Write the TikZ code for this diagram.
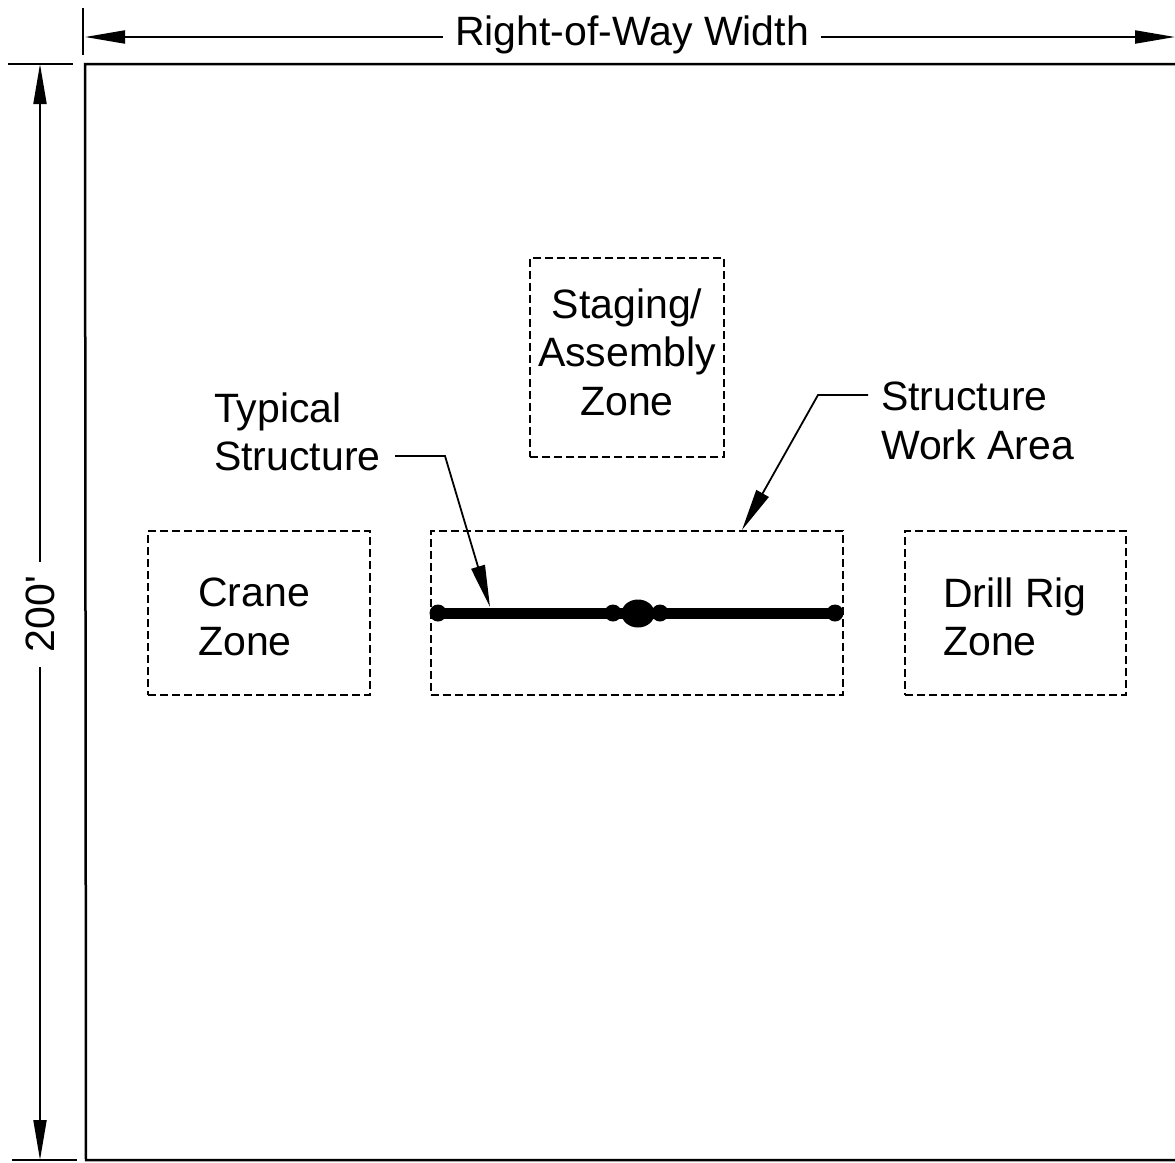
\documentclass[tikz,border=0pt]{standalone}
\usepackage{fontspec}
\setmainfont{Liberation Sans}
\usetikzlibrary{arrows.meta}
\begin{document}
\begin{tikzpicture}[x=1pt,y=-1pt,
  lbl/.style={font=\fontsize{41}{48.5}\selectfont, inner sep=0pt},
  zonebox/.style={draw, line width=1.5pt, dash pattern=on 8pt off 4pt},
  dimline/.style={line width=2pt},
  dimtip/.style={-{Triangle[length=40pt,width=13pt]}},
  leadtip/.style={-{Triangle[length=42pt,width=14pt]}},
  frameline/.style={line width=2.5pt},
  bar/.style={line width=11pt}]
\useasboundingbox (0,0) rectangle (1175,1162);
% frame
\coordinate (ftl) at (85,64);
\coordinate (ftr) at (1175,64);
\coordinate (fbl) at (86,1160);
\coordinate (fbr) at (1175,1160);
\draw[frameline] (ftr) -- (ftl) -- (fbl) -- (fbr);
% extension lines
\coordinate (ext1a) at (83,8);
\coordinate (ext1b) at (83,55);
\draw[dimline] (ext1a) -- (ext1b);
\coordinate (ext2a) at (8,64);
\coordinate (ext2b) at (73,64);
\draw[dimline] (ext2a) -- (ext2b);
\coordinate (ext3a) at (12,1160);
\coordinate (ext3b) at (77,1160);
\draw[dimline] (ext3a) -- (ext3b);
% top dimension
\node[lbl, inner xsep=12pt] (row) at (632,35) {Right-of-Way Width};
\coordinate (rowl) at (85,37);
\coordinate (rowr) at (1175,37);
\draw[dimline,dimtip] (row.west |- rowl) -- (rowl);
\draw[dimline,dimtip] (row.east |- rowr) -- (rowr);
% left dimension
\node[lbl, rotate=90] (dim) at (40,614) {200\textquotesingle};
\coordinate (dimgt) at (40,562);
\coordinate (dimgb) at (40,667);
\coordinate (dimt) at (40,64);
\coordinate (dimb) at (40,1160);
\draw[dimline,dimtip] (dimgt) -- (dimt);
\draw[dimline,dimtip] (dimgb) -- (dimb);
% zones
\node[zonebox, minimum width=194pt, minimum height=199pt] (stage) at (627,357.5) {};
\node[lbl, align=center] (stagetxt) at (627,352) {Staging/\\Assembly\\Zone};
\node[zonebox, minimum width=412pt, minimum height=164pt] (swa) at (637,613) {};
\node[zonebox, minimum width=222pt, minimum height=164pt] (crane) at (259,613) {};
\node[lbl, align=left, anchor=west] (cranetxt) at (198,617) {Crane\\Zone};
\node[zonebox, minimum width=221pt, minimum height=164pt] (drill) at (1015.5,613) {};
\node[lbl, align=left, anchor=west] (drilltxt) at (943,617) {Drill Rig\\Zone};
% structure
\coordinate (sl) at (438,613);
\coordinate (sr) at (835,613);
\draw[bar] (sl) -- (sr);
\fill (sl) circle (8.5pt);
\fill (sr) circle (8.5pt);
\fill (613,613) circle (8.5pt);
\fill (660,613) circle (8.5pt);
\fill (638,613.5) ellipse (16.5pt and 14pt);
% labels with leaders
\node[lbl, align=left, anchor=west] (tstxt) at (214,432) {Typical\\Structure};
\coordinate (ts1) at (395,456);
\coordinate (ts2) at (445,456);
\coordinate (tstip) at (490,607);
\draw[line width=1.8pt, leadtip] (ts1) -- (ts2) -- (tstip);
\node[lbl, align=left, anchor=west] (swatxt) at (881,421) {Structure\\Work Area};
\coordinate (sw1) at (868,395);
\coordinate (sw2) at (818,395);
\coordinate (swtip) at (742,530);
\draw[line width=1.8pt, leadtip] (sw1) -- (sw2) -- (swtip);
\end{tikzpicture}
\end{document}
